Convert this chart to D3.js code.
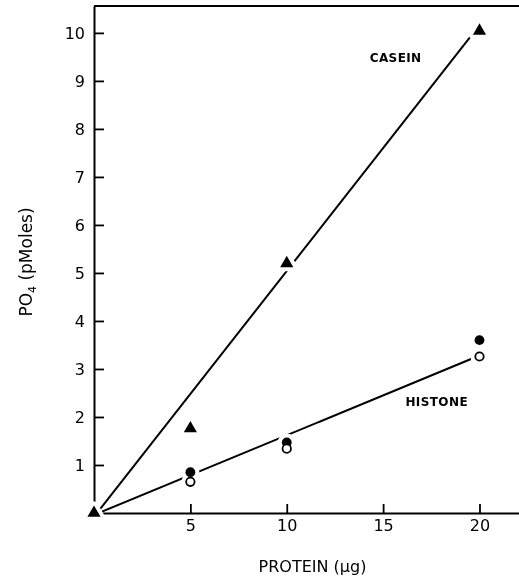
<!DOCTYPE html>
<html>
<head>
<meta charset="utf-8">
<script src="https://cdn.jsdelivr.net/npm/d3@7"></script>
<style>
  html, body { margin: 0; padding: 0; background: #fff; }
  svg { display: block; }
</style>
</head>
<body>
<script>
// Phosphate incorporated vs. amount of protein substrate
const proteinUg     = [0, 5, 10, 20];
const caseinPO4     = [0, 1.76, 5.2, 10.04];
const histoneUg     = [5, 10, 20];
const histoneFilled = [0.85, 1.47, 3.60];
const histoneOpen   = [0.65, 1.34, 3.26];

// fitted straight lines: [protein, PO4] end points
const caseinFit  = [[0, -0.08], [20, 10.16]];
const histoneFit = [[0, -0.04], [20, 3.28]];

const xTicks = [5, 10, 15, 20];
const yTicks = [1, 2, 3, 4, 5, 6, 7, 8, 9, 10];
const xMax = 22.05, yMax = 10.56;

const seriesLabels = [
  { text: "CASEIN",  x: 15.65, y: 9.39 },
  { text: "HISTONE", x: 17.78, y: 2.22 }
];

const W = 519, H = 582;
const margin = { left: 94, top: 6, right: 0, bottom: 69 };
const FONT = "'DejaVu Sans', sans-serif";

const x = d3.scaleLinear().domain([0, xMax]).range([margin.left, W - margin.right]);
const y = d3.scaleLinear().domain([0, yMax]).range([H - margin.bottom, margin.top]);

const svg = d3.select("body").append("svg")
  .attr("width", W).attr("height", H)
  .style("font-family", FONT);

const triangle = d3.symbol().type(d3.symbolTriangle).size(75);
const caseinPts = proteinUg.map((p, i) => [p, caseinPO4[i]]);
const filledPts = histoneUg.map((p, i) => [p, histoneFilled[i]]);
const openPts   = histoneUg.map((p, i) => [p, histoneOpen[i]]);

// white halo around every marker, cut out of the axes and fit lines
const mask = svg.append("defs").append("mask")
  .attr("id", "halo").attr("maskUnits", "userSpaceOnUse")
  .attr("x", 0).attr("y", 0).attr("width", W).attr("height", H);
mask.append("rect").attr("width", W).attr("height", H).attr("fill", "#fff");
mask.selectAll("path").data(caseinPts).join("path")
  .attr("d", triangle)
  .attr("transform", d => `translate(${x(d[0])},${y(d[1])})`)
  .attr("fill", "#000").attr("stroke", "#000")
  .attr("stroke-width", 8).attr("stroke-linejoin", "round");
mask.selectAll("circle").data(filledPts.concat(openPts)).join("circle")
  .attr("cx", d => x(d[0])).attr("cy", d => y(d[1]))
  .attr("r", 9).attr("fill", "#000");

const frame = svg.append("g").attr("mask", "url(#halo)");

// x axis
const gx = frame.append("g")
  .attr("transform", `translate(0,${y(0)})`)
  .call(d3.axisBottom(x).tickValues(xTicks)
    .tickSizeInner(-9).tickSizeOuter(0).tickPadding(7))
  .attr("font-size", 16).attr("font-family", FONT);
gx.select(".domain").attr("stroke-width", 2);
gx.selectAll(".tick line").attr("stroke-width", 1.8);

// y axis
const gy = frame.append("g")
  .attr("transform", `translate(${x(0)},0)`)
  .call(d3.axisLeft(y).tickValues(yTicks)
    .tickSizeInner(-10).tickSizeOuter(0).tickPadding(9))
  .attr("font-size", 16).attr("font-family", FONT);
gy.select(".domain").attr("stroke-width", 2);
gy.selectAll(".tick line").attr("stroke-width", 1.8);

// top frame line
frame.append("line")
  .attr("x1", x(0)).attr("x2", x(xMax))
  .attr("y1", y(yMax)).attr("y2", y(yMax))
  .attr("stroke", "#000").attr("stroke-width", 2);

// fit lines
const line = d3.line().x(d => x(d[0])).y(d => y(d[1]));
frame.selectAll("path.fit").data([caseinFit, histoneFit]).join("path")
  .attr("class", "fit")
  .attr("d", line)
  .attr("fill", "none").attr("stroke", "#000").attr("stroke-width", 2);

// markers
svg.append("g").selectAll("path").data(caseinPts).join("path")
  .attr("d", triangle)
  .attr("transform", d => `translate(${x(d[0])},${y(d[1])})`)
  .attr("fill", "#000");
svg.append("g").selectAll("circle").data(filledPts).join("circle")
  .attr("cx", d => x(d[0])).attr("cy", d => y(d[1]))
  .attr("r", 4.9).attr("fill", "#000");
svg.append("g").selectAll("circle").data(openPts).join("circle")
  .attr("cx", d => x(d[0])).attr("cy", d => y(d[1]))
  .attr("r", 4.2).attr("fill", "#fff")
  .attr("stroke", "#000").attr("stroke-width", 1.8);

// series labels
svg.append("g").selectAll("text").data(seriesLabels).join("text")
  .attr("x", d => x(d.x)).attr("y", d => y(d.y))
  .attr("text-anchor", "middle")
  .attr("font-size", 12).attr("font-weight", "bold")
  .attr("letter-spacing", 0.4)
  .text(d => d.text);

// axis titles
svg.append("text")
  .attr("x", 312.5).attr("y", 571.5)
  .attr("text-anchor", "middle").attr("font-size", 16)
  .text("PROTEIN (µg)");

const yTitle = svg.append("text")
  .attr("transform", "translate(32,262) rotate(-90)")
  .attr("text-anchor", "middle").attr("font-size", 17);
yTitle.append("tspan").text("PO");
yTitle.append("tspan").attr("font-size", 11).attr("dy", 4).text("4");
yTitle.append("tspan").attr("dy", -4).text(" (pMoles)");
</script>
</body>
</html>
